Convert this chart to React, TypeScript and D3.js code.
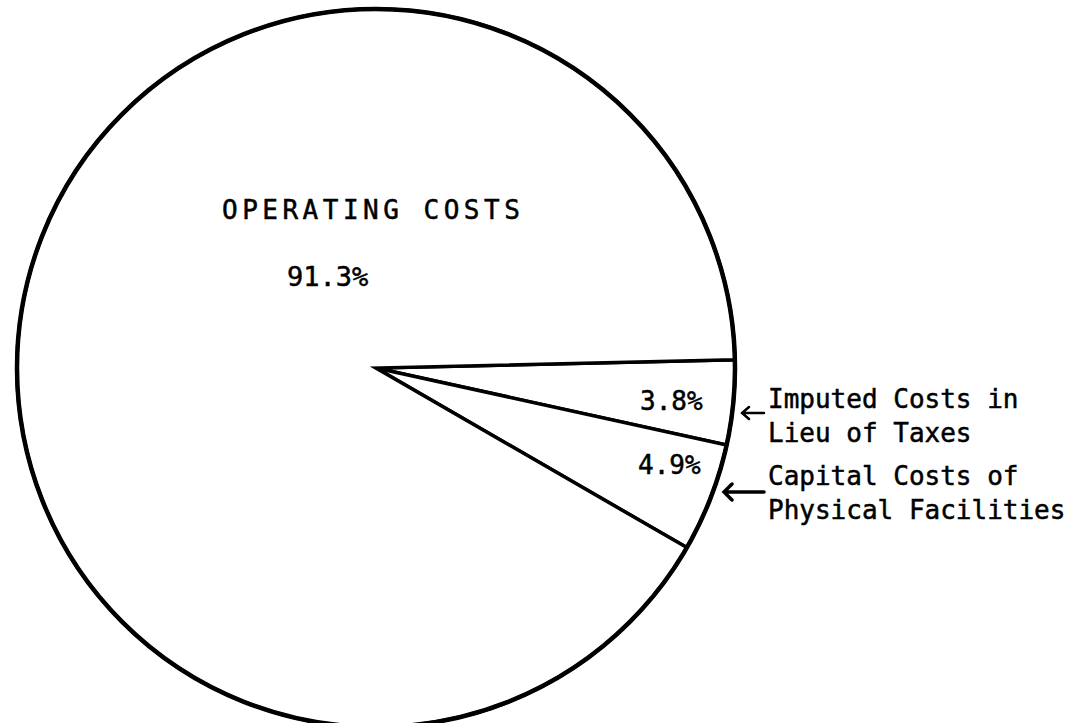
import * as d3 from 'd3';

// slice shares, in drawing order (clockwise from the near-horizontal radius)
const sliceNames = ['Imputed Costs in Lieu of Taxes', 'Capital Costs of Physical Facilities', 'OPERATING COSTS'];
const sliceValues = [3.8, 4.9, 91.3];
const sliceLabels = ['3.8%', '4.9%', '91.3%'];
const sideLabels = [
  ['Imputed Costs in', 'Lieu of Taxes'],
  ['Capital Costs of', 'Physical Facilities'],
];

const App = () => {
  const width = 1083; const height = 723;
  const cx = 376; const cy = 368; const r = 359;
  const font = '"DejaVu Sans Mono", "Liberation Mono", monospace';

  const pie = d3.pie<number>()
    .sort(null)
    .startAngle((88.7 * Math.PI) / 180)
    .endAngle((88.7 * Math.PI) / 180 + 2 * Math.PI);
  const arcs = pie(sliceValues);
  const arc = d3.arc<d3.PieArcDatum<number>>().innerRadius(0).outerRadius(r);

  return (
    <svg width={width} height={height} style={{ position: 'absolute', left: 0, top: 0, background: '#fff' }}>
      <g transform={`translate(${cx},${cy})`}>
        {arcs.map((a, i) => (
          <path key={sliceNames[i]} d={arc(a) || ''} fill="#fff" stroke="#000" strokeWidth={3.5} strokeLinejoin="miter" />
        ))}
        <circle r={r} fill="none" stroke="#000" strokeWidth={4.5} />
      </g>

      <g fontFamily={font} fill="#000" stroke="#000" strokeWidth={0.5}>
        <text x={222} y={219} fontSize={26} letterSpacing={4.5}>{sliceNames[2]}</text>
        <text x={287} y={286} fontSize={27}>{sliceLabels[2]}</text>
        <text x={640} y={410} fontSize={26}>{sliceLabels[0]}</text>
        <text x={638} y={474} fontSize={26}>{sliceLabels[1]}</text>

        {sideLabels.map((lines, i) => (
          <text key={i} x={768} y={i === 0 ? 408 : 485} fontSize={26}>
            {lines.map((l, j) => (
              <tspan key={j} x={768} dy={j === 0 ? 0 : 34}>{l}</tspan>
            ))}
          </text>
        ))}
      </g>

      {/* pointer arrows */}
      <g stroke="#000" fill="none" strokeLinecap="round">
        <path d="M764,413 L742,413 M749,407 L742,413 L749,419" strokeWidth={2.5} />
        <path d="M764,492 L724,492 M732,484 L724,492 L732,500" strokeWidth={3.5} />
      </g>
    </svg>
  );
};

export default App;
